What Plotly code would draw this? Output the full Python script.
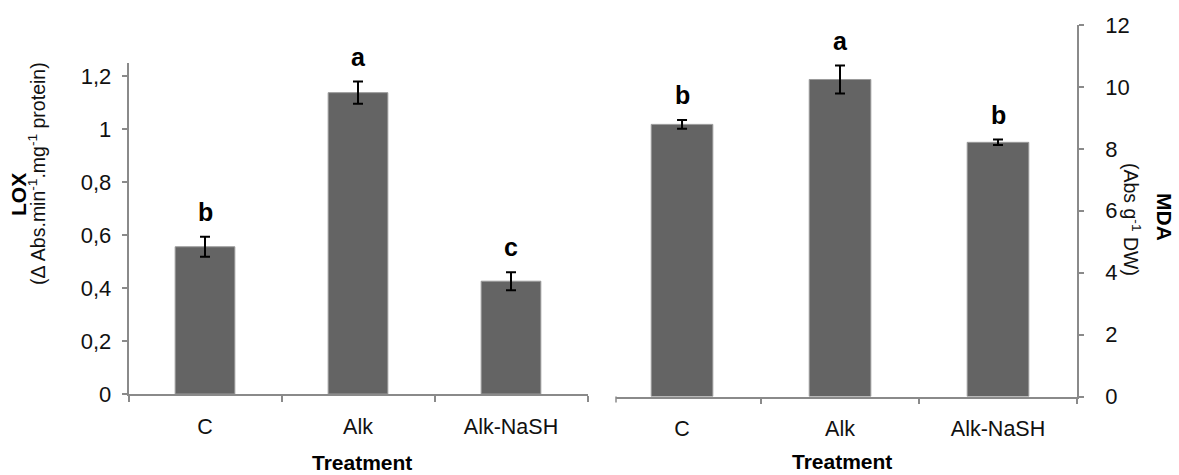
import plotly.graph_objects as go

categories = ["C", "Alk", "Alk-NaSH"]
lox_values = [0.556, 1.138, 0.426]
lox_errors = [0.038, 0.042, 0.034]
lox_letters = ["b", "a", "c"]
mda_values = [8.79, 10.24, 8.21]
mda_errors = [0.14, 0.45, 0.09]
mda_letters = ["b", "a", "b"]
lox_ticks = [0, 0.2, 0.4, 0.6, 0.8, 1.0, 1.2]
lox_ticktext = ["0", "0,2", "0,4", "0,6", "0,8", "1", "1,2"]
mda_ticks = [0, 2, 4, 6, 8, 10, 12]

W, H = 1179, 475
FONT = "Liberation Sans, Arial, sans-serif"
AXC = "#8a8a8a"
BAR = "#646464"

def px(x):
    return x / W

def py(y):
    return (H - y) / H

fig = go.Figure()
fig.add_trace(go.Bar(
    x=categories, y=lox_values, xaxis="x", yaxis="y",
    marker=dict(color=BAR, line=dict(color="#9a9a9a", width=1)),
    error_y=dict(type="data", array=lox_errors, color="black", thickness=2, width=5),
    showlegend=False))
fig.add_trace(go.Bar(
    x=categories, y=mda_values, xaxis="x2", yaxis="y2",
    marker=dict(color=BAR, line=dict(color="#9a9a9a", width=1)),
    error_y=dict(type="data", array=mda_errors, color="black", thickness=2, width=5),
    showlegend=False))

ann = []
for c, v, e, l in zip(categories, lox_values, lox_errors, lox_letters):
    ann.append(dict(x=c, y=v + e, xref="x", yref="y", text="<b>%s</b>" % l,
                    showarrow=False, yanchor="middle", yshift=25,
                    font=dict(size=25, color="black", family=FONT)))
for c, v, e, l in zip(categories, mda_values, mda_errors, mda_letters):
    ann.append(dict(x=c, y=v + e, xref="x2", yref="y2", text="<b>%s</b>" % l,
                    showarrow=False, yanchor="middle", yshift=25,
                    font=dict(size=25, color="black", family=FONT)))

# axis titles
ann.append(dict(x=px(19), y=py(194), xref="paper", yref="paper", text="<b>LOX</b>",
                textangle=-90, showarrow=False, xanchor="center", yanchor="middle",
                font=dict(size=21, color="black", family=FONT)))
ann.append(dict(x=px(37), y=py(174), xref="paper", yref="paper",
                text="(Δ Abs.min<sup>-1</sup>.mg<sup>-1</sup> protein)",
                textangle=-90, showarrow=False, xanchor="center", yanchor="middle",
                font=dict(size=19.5, color="#111", family=FONT)))
ann.append(dict(x=px(1165), y=py(217), xref="paper", yref="paper", text="<b>MDA</b>",
                textangle=90, showarrow=False, xanchor="center", yanchor="middle",
                font=dict(size=21, color="black", family=FONT)))
ann.append(dict(x=px(1132), y=py(219), xref="paper", yref="paper",
                text="(Abs g<sup>-1</sup> DW)",
                textangle=90, showarrow=False, xanchor="center", yanchor="middle",
                font=dict(size=19.5, color="#111", family=FONT)))
ann.append(dict(x=px(362), y=py(462), xref="paper", yref="paper", text="<b>Treatment</b>",
                showarrow=False, xanchor="center", yanchor="middle",
                font=dict(size=21, color="black", family=FONT)))
ann.append(dict(x=px(842), y=0, xref="paper", yref="paper", text="<b>Treatment</b>",
                showarrow=False, xanchor="center", yanchor="bottom",
                font=dict(size=21, color="black", family=FONT)))

xcommon = dict(type="category", showgrid=False, zeroline=False, showline=True,
               linecolor=AXC, linewidth=1.5, ticks="outside", tickson="boundaries",
               ticklen=6, tickcolor=AXC, tickwidth=1.5, ticklabelstandoff=12,
               automargin=False,
               tickfont=dict(size=21.5, color="#111", family=FONT))
ycommon = dict(showgrid=False, zeroline=False, showline=True, linecolor=AXC,
               linewidth=1.5, ticks="outside", ticklen=5, tickcolor=AXC, tickwidth=1.5,
               automargin=False,
               tickfont=dict(size=22, color="#111", family=FONT))

fig.update_layout(
    width=W, height=H, margin=dict(l=0, r=0, t=0, b=0, pad=0, autoexpand=False),
    paper_bgcolor="white", plot_bgcolor="white",
    bargap=0.61,
    xaxis=dict(domain=[px(128.5), px(587.5)], range=[-0.5, 2.5], anchor="y", **xcommon),
    yaxis=dict(domain=[py(394), py(63)], range=[0, 1.25], tickvals=lox_ticks,
               ticktext=lox_ticktext, anchor="x", side="left", ticklabelstandoff=6,
               **ycommon),
    xaxis2=dict(domain=[px(616), px(1077)], range=[-0.418, 2.5], anchor="y2", **xcommon),
    yaxis2=dict(domain=[py(396.5), py(25)], range=[0, 12], tickvals=mda_ticks,
                anchor="x2", side="right", ticklabelstandoff=17, **ycommon),
    annotations=ann,
    shapes=[dict(type="line", xref="x2 domain", yref="y2 domain", x0=0, x1=0,
                 y0=0, y1=-0.016, line=dict(color=AXC, width=1.5))],
)

fig.write_html("out.html")
